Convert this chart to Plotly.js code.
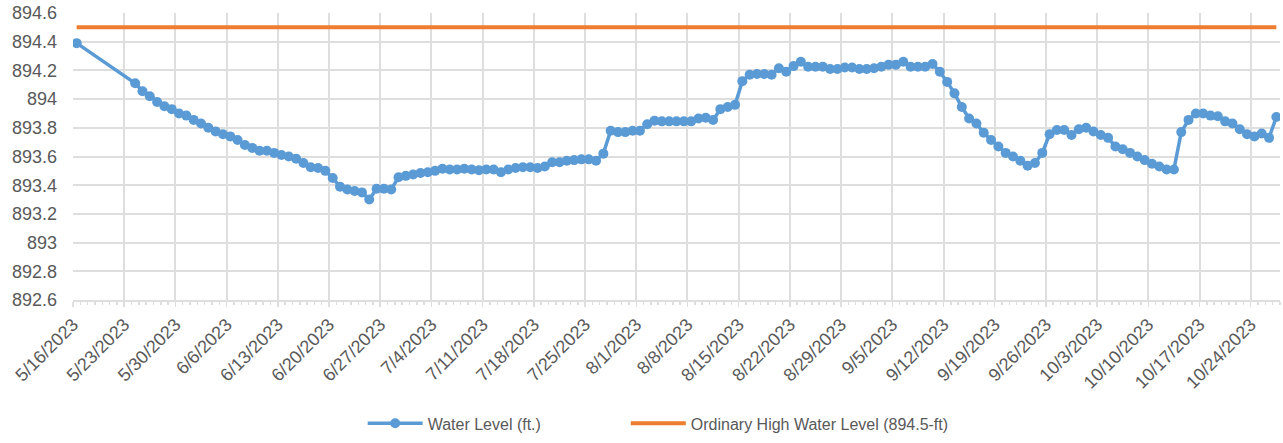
<!DOCTYPE html>
<html>
<head>
<meta charset="utf-8">
<script src="https://cdn.plot.ly/plotly-3.0.1.min.js"></script>
<style>
  html, body { margin: 0; padding: 0; background: #fff; }
  #plt { width: 1283px; height: 443px; }
</style>
</head>
<body>
<div id="plt"></div>
<script>
// daily water level readings (ft.)
var dates = [
  '2023-05-16',
  '2023-05-24', '2023-05-25', '2023-05-26', '2023-05-27', '2023-05-28', '2023-05-29', '2023-05-30', '2023-05-31',
  '2023-06-01', '2023-06-02', '2023-06-03', '2023-06-04', '2023-06-05', '2023-06-06', '2023-06-07', '2023-06-08',
  '2023-06-09', '2023-06-10', '2023-06-11', '2023-06-12', '2023-06-13', '2023-06-14', '2023-06-15', '2023-06-16',
  '2023-06-17', '2023-06-18', '2023-06-19', '2023-06-20', '2023-06-21', '2023-06-22', '2023-06-23', '2023-06-24',
  '2023-06-25', '2023-06-26', '2023-06-27', '2023-06-28', '2023-06-29', '2023-06-30',
  '2023-07-01', '2023-07-02', '2023-07-03', '2023-07-04', '2023-07-05', '2023-07-06', '2023-07-07', '2023-07-08',
  '2023-07-09', '2023-07-10', '2023-07-11', '2023-07-12', '2023-07-13', '2023-07-14', '2023-07-15', '2023-07-16',
  '2023-07-17', '2023-07-18', '2023-07-19', '2023-07-20', '2023-07-21', '2023-07-22', '2023-07-23', '2023-07-24',
  '2023-07-25', '2023-07-26', '2023-07-27', '2023-07-28', '2023-07-29', '2023-07-30', '2023-07-31',
  '2023-08-01', '2023-08-02', '2023-08-03', '2023-08-04', '2023-08-05', '2023-08-06', '2023-08-07', '2023-08-08',
  '2023-08-09', '2023-08-10', '2023-08-11', '2023-08-12', '2023-08-13', '2023-08-14', '2023-08-15', '2023-08-16',
  '2023-08-17', '2023-08-18', '2023-08-19', '2023-08-20', '2023-08-21', '2023-08-22', '2023-08-23', '2023-08-24',
  '2023-08-25', '2023-08-26', '2023-08-27', '2023-08-28', '2023-08-29', '2023-08-30', '2023-08-31',
  '2023-09-01', '2023-09-02', '2023-09-03', '2023-09-04', '2023-09-05', '2023-09-06', '2023-09-07', '2023-09-08',
  '2023-09-09', '2023-09-10', '2023-09-11', '2023-09-12', '2023-09-13', '2023-09-14', '2023-09-15', '2023-09-16',
  '2023-09-17', '2023-09-18', '2023-09-19', '2023-09-20', '2023-09-21', '2023-09-22', '2023-09-23', '2023-09-24',
  '2023-09-25', '2023-09-26', '2023-09-27', '2023-09-28', '2023-09-29', '2023-09-30',
  '2023-10-01', '2023-10-02', '2023-10-03', '2023-10-04', '2023-10-05', '2023-10-06', '2023-10-07', '2023-10-08',
  '2023-10-09', '2023-10-10', '2023-10-11', '2023-10-12', '2023-10-13', '2023-10-14', '2023-10-15', '2023-10-16',
  '2023-10-17', '2023-10-18', '2023-10-19', '2023-10-20', '2023-10-21', '2023-10-22', '2023-10-23', '2023-10-24',
  '2023-10-25', '2023-10-26', '2023-10-27'
];

var waterLevel = [
  894.39,
  894.11, 894.055, 894.02, 893.98, 893.95, 893.93, 893.90, 893.885,
  893.855, 893.83, 893.80, 893.775, 893.755, 893.74, 893.715, 893.68,
  893.66, 893.64, 893.64, 893.625, 893.61, 893.60, 893.585, 893.555,
  893.525, 893.52, 893.50, 893.45, 893.39, 893.37, 893.36, 893.35,
  893.30, 893.375, 893.375, 893.37, 893.455, 893.465,
  893.475, 893.485, 893.49, 893.50, 893.515, 893.51, 893.51, 893.515,
  893.51, 893.505, 893.51, 893.51, 893.49, 893.51, 893.52, 893.525,
  893.525, 893.52, 893.53, 893.56, 893.56, 893.57, 893.575, 893.58,
  893.58, 893.57, 893.62, 893.78, 893.77, 893.77, 893.78,
  893.78, 893.825, 893.85, 893.845, 893.845, 893.845, 893.845, 893.845,
  893.865, 893.87, 893.855, 893.93, 893.945, 893.96, 894.125, 894.17,
  894.175, 894.175, 894.17, 894.215, 894.19, 894.23, 894.26, 894.225,
  894.225, 894.225, 894.21, 894.21, 894.22, 894.22, 894.21,
  894.21, 894.215, 894.225, 894.24, 894.24, 894.26, 894.225, 894.225,
  894.225, 894.245, 894.19, 894.12, 894.04, 893.945, 893.865, 893.83,
  893.765, 893.715, 893.67, 893.625, 893.60, 893.57, 893.535, 893.555,
  893.625, 893.755, 893.785, 893.785, 893.75, 893.79,
  893.80, 893.775, 893.75, 893.73, 893.67, 893.65, 893.625, 893.60,
  893.575, 893.55, 893.53, 893.51, 893.51, 893.77, 893.855, 893.90,
  893.90, 893.885, 893.88, 893.845, 893.83, 893.79, 893.755, 893.74,
  893.76, 893.73, 893.875
];

var OHWL = 894.5; // ordinary high water level

var axisStart = '2023-05-16';
var axisEnd = '2023-10-28';

// points sit in the middle of each day, like the excel date axis
var xMid = dates.map(function (d) { return d + ' 12:00'; });

var data = [{
  x: xMid,
  y: waterLevel,
  type: 'scatter',
  mode: 'lines+markers',
  name: 'Water Level (ft.)',
  legend: 'legend',
  line: { color: '#5B9BD5', width: 3.5 },
  marker: { color: '#5B9BD5', size: 10 }
}, {
  x: xMid,
  y: dates.map(function () { return OHWL; }),
  type: 'scatter',
  mode: 'lines',
  name: 'Ordinary High Water Level (894.5-ft)',
  legend: 'legend2',
  line: { color: '#ED7D31', width: 4 }
}];

var tickFnt = { family: 'Liberation Sans, Arial, sans-serif', size: 18, color: '#595959' };
var legFnt = { family: 'Liberation Sans, Arial, sans-serif', size: 16, color: '#595959' };

var gridCol = '#dedede';

function legendAt(xp) {
  return {
    orientation: 'h',
    x: xp, xanchor: 'left',
    y: -0.43, yanchor: 'middle',
    itemwidth: 55,
    bgcolor: 'rgba(0,0,0,0)',
    font: legFnt
  };
}

var layout = {
  width: 1283,
  height: 443,
  margin: { l: 73, r: 3, t: 13, b: 140 },
  paper_bgcolor: '#fff',
  plot_bgcolor: '#fff',
  font: tickFnt,
  showlegend: true,
  legend: legendAt(0.24),
  legend2: legendAt(0.458),
  xaxis: {
    type: 'date',
    range: [axisStart, axisEnd],
    tick0: axisStart,
    dtick: 7 * 86400000,
    tickformat: '%-m/%-d/%Y',
    tickangle: -45,
    showgrid: true,
    gridcolor: gridCol,
    gridwidth: 2,
    showline: true,
    linecolor: gridCol,
    linewidth: 2,
    ticks: 'outside',
    ticklen: 5,
    tickwidth: 1.5,
    tickcolor: gridCol,
    minor: { dtick: 86400000, ticks: 'outside', ticklen: 3, tickcolor: gridCol, showgrid: false },
    zeroline: false,
    tickfont: tickFnt
  },
  yaxis: {
    range: [892.6, 894.6],
    dtick: 0.2,
    tick0: 892.6,
    showgrid: true,
    gridcolor: gridCol,
    gridwidth: 2,
    zeroline: false,
    showline: false,
    ticks: '',
    ticklabelstandoff: 15,
    tickfont: tickFnt
  }
};

Plotly.newPlot(document.getElementById('plt'), data, layout, { displayModeBar: false, staticPlot: true });
</script>
</body>
</html>
